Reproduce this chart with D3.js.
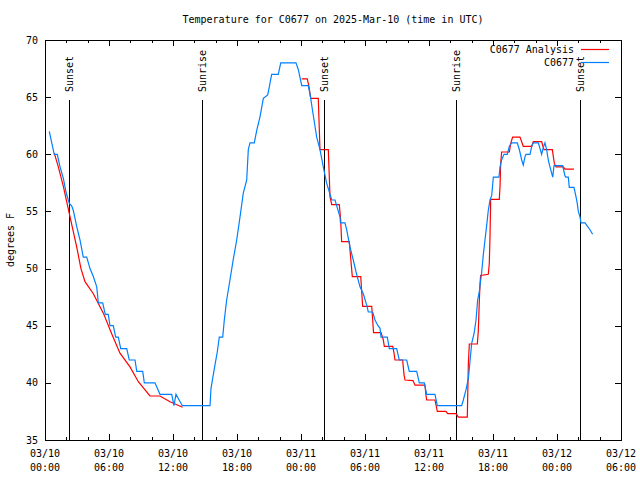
<!DOCTYPE html>
<html>
<head>
<meta charset="utf-8">
<script src="https://cdn.jsdelivr.net/npm/d3@7"></script>
<style>
  html, body { margin: 0; padding: 0; background: #fff; }
  svg { display: block; }
  text { font-family: "DejaVu Sans Mono", "Liberation Mono", monospace; font-size: 10px; fill: #000; }
</style>
</head>
<body>
<svg id="chart" width="640" height="480"></svg>
<script>
// ---------------- data ----------------
const title = "Temperature for C0677 on 2025-Mar-10 (time in UTC)";
const yLabel = "degrees F";
const seriesNames = ["C0677 Analysis", "C0677"];
const seriesColors = ["#ff0000", "#0080ff"];

// hours since 2025-03-10 00:00 UTC
const xMajorTicks = [0, 6, 12, 18, 24, 30, 36, 42, 48, 54];
const xMinorTicks = [2, 4, 8, 10, 14, 16, 20, 22, 26, 28, 32, 34, 38, 40, 44, 46, 50, 52];
const xTickDates = ["03/10", "03/10", "03/10", "03/10", "03/11", "03/11", "03/11", "03/11", "03/12", "03/12"];
const xTickTimes = ["00:00", "06:00", "12:00", "18:00", "00:00", "06:00", "12:00", "18:00", "00:00", "06:00"];
const yTicks = [35, 40, 45, 50, 55, 60, 65, 70];

const sunEventHours = [2.28, 14.69, 26.19, 38.56, 50.18];
const sunEventNames = ["Sunset", "Sunrise", "Sunset", "Sunrise", "Sunset"];

// Analysis (red), first and second segment: [hour, degF]
const analysisPart1 = [
  [0.87, 60.1], [1.25, 58.9], [1.72, 57.2], [2.28, 54.8], [2.97, 51.9], [3.37, 50.0],
  [3.75, 48.85], [4.53, 47.8], [5.47, 46.1], [6.25, 44.3], [7.03, 42.6], [7.97, 41.4],
  [8.75, 40.1], [9.84, 38.85], [10.78, 38.85], [11.72, 38.35], [12.90, 37.86]
];
const analysisPart2 = [
  [24.07, 66.6], [24.59, 66.6], [24.75, 65.9], [24.91, 64.9], [25.62, 64.9], [25.78, 60.4],
  [26.56, 60.4], [26.72, 56.3], [26.88, 55.6], [27.59, 55.6], [27.72, 54.25], [27.81, 52.35],
  [28.53, 52.35], [28.66, 50.9], [28.81, 49.3], [29.60, 49.3], [29.69, 48.0], [29.78, 46.7],
  [30.63, 46.7], [30.72, 45.5], [30.80, 44.4], [31.50, 44.4], [31.72, 43.75], [31.81, 43.2],
  [32.60, 43.2], [32.72, 42.6], [32.81, 42.0], [33.53, 42.0], [33.66, 40.7], [33.75, 40.25],
  [34.50, 40.2], [34.69, 39.8], [35.62, 39.8], [35.72, 38.9], [35.78, 38.5], [36.56, 38.5],
  [36.78, 37.5], [37.59, 37.5], [37.75, 37.3], [38.53, 37.3], [38.75, 37.0], [39.59, 37.0],
  [39.69, 41.7], [39.78, 43.4], [40.53, 43.4], [40.62, 44.5], [40.72, 47.25], [40.78, 48.6],
  [40.84, 49.4], [41.56, 49.5], [41.65, 50.4], [41.72, 52.8], [41.78, 56.05], [42.59, 56.05],
  [42.66, 57.2], [42.72, 59.2], [42.81, 60.2], [43.53, 60.2], [43.66, 60.95], [43.84, 61.5],
  [44.53, 61.5], [44.84, 60.7], [45.63, 60.7], [45.78, 61.1], [46.56, 61.1], [46.78, 60.4],
  [47.56, 60.4], [47.75, 59.2], [47.91, 58.9], [48.59, 58.9], [48.75, 58.7], [49.59, 58.7]
];

// Observations (blue): [hour, degF]
const observed = [
  [0.40, 62], [0.87, 60], [1.15, 60], [1.41, 58.9], [1.72, 57.9], [1.97, 56.7], [2.18, 56],
  [2.28, 55.7], [2.50, 55.5], [2.65, 55.1], [2.97, 53.7], [3.28, 52.5], [3.59, 51], [3.91, 51],
  [4.22, 50], [4.53, 49.3], [4.85, 48.4], [5.00, 47], [5.41, 47], [5.65, 46], [5.93, 46],
  [6.09, 45], [6.40, 45], [6.63, 44], [6.87, 44], [7.10, 43], [7.66, 43], [7.90, 42],
  [8.44, 42], [8.60, 41], [9.16, 41], [9.31, 40], [10.31, 40], [10.78, 39], [11.88, 39],
  [12.09, 38], [12.28, 39], [12.87, 38], [15.47, 38], [15.56, 39.5], [15.72, 40.4],
  [15.94, 41.6], [16.15, 42.7], [16.34, 44], [16.66, 44], [16.81, 45.5], [17.03, 47.25],
  [17.34, 49], [17.65, 50.8], [17.97, 52.5], [18.28, 54.5], [18.59, 56.6], [18.91, 57.75],
  [19.06, 60.4], [19.22, 61], [19.62, 61], [19.85, 62.1], [20.16, 63.3], [20.47, 64.9],
  [20.88, 65.2], [21.09, 66.2], [21.25, 67], [21.87, 67], [22.10, 68], [23.53, 68],
  [23.75, 67.4], [24.07, 66], [24.68, 66], [24.84, 65.3], [25.22, 63], [25.47, 61.5],
  [25.78, 60.4], [26.09, 58.9], [26.41, 57.45], [26.72, 56.5], [26.88, 56], [27.19, 56],
  [27.66, 54.5], [27.70, 54], [28.12, 54], [28.28, 53.4], [28.59, 51.9], [28.90, 50.75],
  [29.16, 49.7], [29.53, 48.4], [29.84, 47.8], [30.16, 46.8], [30.31, 46.2], [30.72, 46.2],
  [30.94, 45.5], [31.22, 45], [31.41, 44.77], [31.50, 44], [32.09, 44], [32.28, 43],
  [32.97, 43], [33.21, 42], [33.91, 42], [34.15, 41], [34.85, 41], [35.09, 40], [35.56, 40],
  [35.78, 39], [36.56, 39], [36.78, 38], [39.06, 38], [39.22, 38.5], [39.47, 39.4],
  [39.69, 40.4], [39.84, 41.85], [40.00, 43.45], [40.22, 44.3], [40.41, 45.5], [40.56, 47.25],
  [40.72, 48], [40.94, 49.7], [41.09, 51.2], [41.25, 52.5], [41.41, 53.8], [41.56, 55.1],
  [41.72, 56], [41.88, 56.4], [42.03, 58], [42.56, 58], [42.66, 58.9], [42.81, 59.5],
  [43.03, 60], [43.34, 60], [43.53, 60.7], [43.75, 61], [44.28, 61], [44.47, 60.4],
  [44.69, 59.5], [44.84, 59.06], [45.00, 59.8], [45.09, 60], [45.47, 60], [45.63, 60.7],
  [45.78, 61], [46.25, 61], [46.41, 60.5], [46.56, 60], [46.72, 60.6], [46.87, 61],
  [47.03, 60.4], [47.18, 59.5], [47.34, 58.9], [47.60, 58], [47.72, 59], [48.53, 59],
  [48.75, 58.1], [48.84, 58], [49.06, 58], [49.15, 57.1], [49.59, 57.1], [49.78, 56.3],
  [49.90, 55.7], [50.00, 55], [50.16, 54.5], [50.25, 54], [50.62, 54], [50.78, 53.8],
  [51.09, 53.4], [51.34, 53]
];

// ---------------- drawing ----------------
const svg = d3.select("#chart");
const pLeft = 45, pRight = 621, pTop = 40, pBottom = 440;

const x = d3.scaleLinear().domain([0, 54]).range([pLeft, pRight]);
const y = d3.scaleLinear().domain([35, 70]).range([pBottom, pTop]);

// title
svg.append("text").attr("x", (pLeft + pRight) / 2).attr("y", 23)
  .attr("text-anchor", "middle").text(title);

// y label
svg.append("text").attr("transform", "translate(10,240) rotate(-90)")
  .attr("text-anchor", "middle").attr("dy", "0.35em").text(yLabel);

// Axes (ticks pointing inward, mirrored)
function styleAxis(g) {
  g.select(".domain").remove();
  g.selectAll("line").attr("stroke", "#000").attr("stroke-width", 1).attr("shape-rendering", "crispEdges");
  g.selectAll("text").remove();
}
svg.append("g").attr("transform", `translate(0,${pBottom})`)
  .call(d3.axisBottom(x).tickValues(xMajorTicks).tickSize(-6)).call(styleAxis);
svg.append("g").attr("transform", `translate(0,${pBottom})`)
  .call(d3.axisBottom(x).tickValues(xMinorTicks).tickSize(-3)).call(styleAxis);
svg.append("g").attr("transform", `translate(0,${pTop})`)
  .call(d3.axisTop(x).tickValues(xMajorTicks).tickSize(-6)).call(styleAxis);
svg.append("g").attr("transform", `translate(0,${pTop})`)
  .call(d3.axisTop(x).tickValues(xMinorTicks).tickSize(-3)).call(styleAxis);
svg.append("g").attr("transform", `translate(${pLeft},0)`)
  .call(d3.axisLeft(y).tickValues(yTicks).tickSize(-6)).call(styleAxis);
svg.append("g").attr("transform", `translate(${pRight},0)`)
  .call(d3.axisRight(y).tickValues(yTicks).tickSize(-6)).call(styleAxis);

// x tick labels (two lines)
const xl = svg.append("g");
xMajorTicks.forEach((h, i) => {
  const t = xl.append("text").attr("x", x(h)).attr("text-anchor", "middle");
  t.append("tspan").attr("x", x(h)).attr("y", 457).text(xTickDates[i]);
  t.append("tspan").attr("x", x(h)).attr("y", 471).text(xTickTimes[i]);
});
// y tick labels
yTicks.forEach(v => {
  svg.append("text").attr("x", 38).attr("y", y(v)).attr("dy", "0.35em")
    .attr("text-anchor", "end").text(v);
});

// sunrise / sunset lines
sunEventHours.forEach((h, i) => {
  const sx = Math.round(x(h)) + 0.5;
  svg.append("line").attr("x1", sx).attr("x2", sx)
    .attr("y1", 100).attr("y2", pBottom).attr("stroke", "#000").attr("stroke-width", 1);
  svg.append("text").attr("transform", `translate(${sx},92) rotate(-90)`)
    .attr("text-anchor", "start").attr("dy", "0.35em").text(sunEventNames[i]);
});

// series
const line = d3.line().x(d => x(d[0])).y(d => y(d[1]));
[analysisPart1, analysisPart2].forEach(part => {
  svg.append("path").datum(part).attr("d", line)
    .attr("fill", "none").attr("stroke", seriesColors[0]).attr("stroke-width", 1.2);
});
svg.append("path").datum(observed).attr("d", line)
  .attr("fill", "none").attr("stroke", seriesColors[1]).attr("stroke-width", 1.2);

// border
svg.append("rect").attr("x", pLeft + 0.5).attr("y", pTop + 0.5)
  .attr("width", pRight - pLeft).attr("height", pBottom - pTop)
  .attr("fill", "none").attr("stroke", "#000").attr("stroke-width", 1);

// legend
seriesNames.forEach((name, i) => {
  const ly = 49 + i * 13;
  svg.append("text").attr("x", 574).attr("y", ly).attr("dy", "0.35em")
    .attr("text-anchor", "end").text(name);
  svg.append("line").attr("x1", 581).attr("x2", 609).attr("y1", ly + 0.5).attr("y2", ly + 0.5)
    .attr("stroke", seriesColors[i]).attr("stroke-width", 1.2);
});
</script>
</body>
</html>
